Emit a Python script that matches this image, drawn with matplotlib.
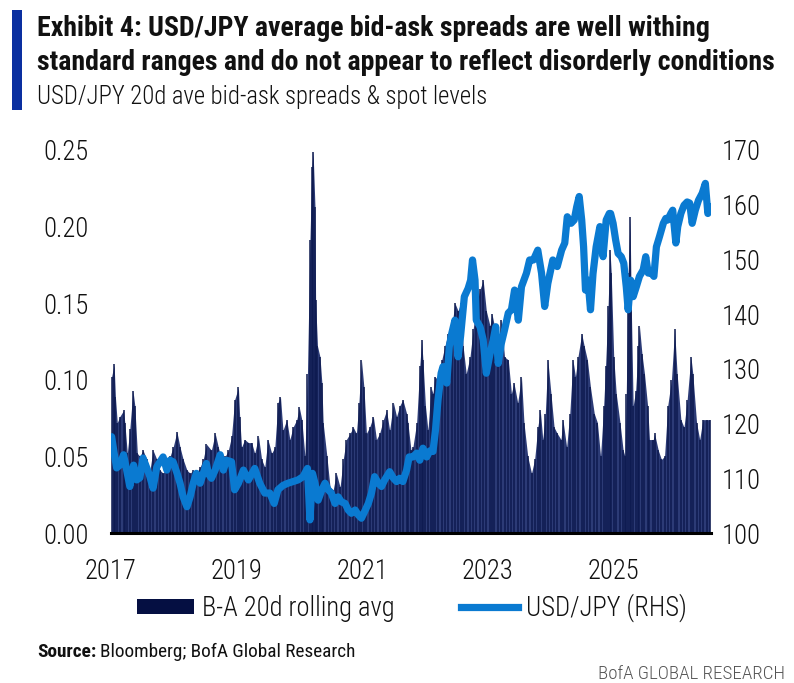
import numpy as np
import matplotlib
matplotlib.use("Agg")
import matplotlib.pyplot as plt
from matplotlib import font_manager as fm
from matplotlib.font_manager import FontProperties
from matplotlib.patches import Patch, Rectangle
from matplotlib.lines import Line2D

# ---------------- data ----------------
ba_dates = [2017.01, 2017.05, 2017.07, 2017.10, 2017.14, 2017.20, 2017.22, 2017.26, 2017.30, 2017.35,
            2017.38, 2017.42, 2017.46, 2017.51, 2017.57, 2017.62, 2017.67, 2017.73, 2017.78, 2017.83,
            2017.89, 2017.94, 2017.99, 2018.05, 2018.10, 2018.15, 2018.21, 2018.26, 2018.31, 2018.36,
            2018.42, 2018.47, 2018.52, 2018.60, 2018.66, 2018.71, 2018.76, 2018.82, 2018.87, 2018.92,
            2018.97, 2019.03, 2019.05, 2019.08, 2019.13, 2019.19, 2019.24, 2019.29, 2019.35, 2019.40,
            2019.45, 2019.50, 2019.56, 2019.61, 2019.66, 2019.70, 2019.74, 2019.80, 2019.85, 2019.90,
            2019.96, 2020.00, 2020.04, 2020.09, 2020.13, 2020.17, 2020.20, 2020.22, 2020.25, 2020.26,
            2020.29, 2020.33, 2020.36, 2020.38, 2020.44, 2020.49, 2020.54, 2020.59, 2020.65, 2020.70,
            2020.75, 2020.81, 2020.86, 2020.91, 2020.95, 2020.99, 2021.03, 2021.07, 2021.12, 2021.18,
            2021.23, 2021.28, 2021.34, 2021.39, 2021.44, 2021.50, 2021.55, 2021.60, 2021.65, 2021.71,
            2021.73, 2021.78, 2021.81, 2021.87, 2021.92, 2021.95, 2021.97, 2022.01, 2022.05, 2022.10,
            2022.13, 2022.16, 2022.21, 2022.27, 2022.32, 2022.37, 2022.43, 2022.48, 2022.53, 2022.57,
            2022.61, 2022.66, 2022.72, 2022.77, 2022.82, 2022.88, 2022.93, 2022.98, 2023.04, 2023.07,
            2023.11, 2023.17, 2023.22, 2023.27, 2023.33, 2023.38, 2023.42, 2023.48, 2023.54, 2023.58,
            2023.64, 2023.70, 2023.75, 2023.80, 2023.84, 2023.88, 2023.92, 2023.96, 2024.01, 2024.06,
            2024.11, 2024.17, 2024.20, 2024.26, 2024.31, 2024.36, 2024.40, 2024.44, 2024.50, 2024.54,
            2024.59, 2024.64, 2024.70, 2024.75, 2024.80, 2024.85, 2024.88, 2024.92, 2024.95, 2024.97,
            2025.01, 2025.05, 2025.11, 2025.16, 2025.19, 2025.21, 2025.24, 2025.27, 2025.29, 2025.32,
            2025.36, 2025.40, 2025.42, 2025.46, 2025.50, 2025.55, 2025.58, 2025.64, 2025.66, 2025.72,
            2025.77, 2025.82, 2025.87, 2025.93, 2025.98, 2026.02, 2026.08, 2026.13, 2026.18, 2026.24,
            2026.27, 2026.33, 2026.38, 2026.43, 2026.49, 2026.54]
ba_values = [0.102, 0.110, 0.089, 0.072, 0.076, 0.080, 0.072, 0.052, 0.068, 0.093,
             0.083, 0.052, 0.050, 0.054, 0.048, 0.041, 0.054, 0.048, 0.041, 0.039,
             0.043, 0.050, 0.056, 0.066, 0.056, 0.048, 0.041, 0.039, 0.041, 0.039,
             0.043, 0.048, 0.058, 0.054, 0.065, 0.056, 0.048, 0.050, 0.054, 0.063,
             0.087, 0.095, 0.076, 0.056, 0.061, 0.059, 0.059, 0.052, 0.063, 0.048,
             0.043, 0.061, 0.052, 0.056, 0.085, 0.089, 0.067, 0.074, 0.061, 0.069,
             0.074, 0.082, 0.074, 0.050, 0.104, 0.191, 0.239, 0.249, 0.213, 0.152,
             0.122, 0.115, 0.098, 0.072, 0.050, 0.030, 0.028, 0.039, 0.030, 0.048,
             0.061, 0.065, 0.069, 0.065, 0.085, 0.113, 0.095, 0.065, 0.069, 0.076,
             0.061, 0.065, 0.074, 0.080, 0.067, 0.085, 0.076, 0.083, 0.087, 0.078,
             0.072, 0.054, 0.056, 0.072, 0.109, 0.126, 0.113, 0.083, 0.067, 0.095,
             0.091, 0.102, 0.100, 0.113, 0.122, 0.130, 0.135, 0.150, 0.145, 0.150,
             0.122, 0.104, 0.115, 0.133, 0.148, 0.159, 0.165, 0.145, 0.135, 0.143,
             0.135, 0.122, 0.139, 0.115, 0.113, 0.091, 0.098, 0.085, 0.102, 0.072,
             0.050, 0.039, 0.048, 0.069, 0.080, 0.061, 0.078, 0.113, 0.091, 0.069,
             0.065, 0.061, 0.074, 0.056, 0.078, 0.113, 0.102, 0.115, 0.130, 0.122,
             0.113, 0.095, 0.078, 0.072, 0.050, 0.083, 0.109, 0.148, 0.185, 0.170,
             0.115, 0.091, 0.072, 0.054, 0.050, 0.091, 0.170, 0.206, 0.148, 0.083,
             0.093, 0.122, 0.135, 0.117, 0.104, 0.083, 0.061, 0.061, 0.065, 0.054,
             0.048, 0.050, 0.083, 0.100, 0.133, 0.104, 0.074, 0.069, 0.087, 0.115,
             0.104, 0.072, 0.061, 0.074, 0.074, 0.074]

fx_dates = [2017.01, 2017.05, 2017.09, 2017.14, 2017.20, 2017.25, 2017.30, 2017.36, 2017.41, 2017.46,
            2017.51, 2017.57, 2017.62, 2017.67, 2017.73, 2017.78, 2017.83, 2017.89, 2017.94, 2017.99,
            2018.05, 2018.10, 2018.15, 2018.21, 2018.26, 2018.31, 2018.36, 2018.42, 2018.47, 2018.52,
            2018.55, 2018.60, 2018.66, 2018.74, 2018.79, 2018.84, 2018.92, 2018.97, 2019.03, 2019.11,
            2019.19, 2019.29, 2019.37, 2019.45, 2019.53, 2019.60, 2019.66, 2019.74, 2019.82, 2019.90,
            2019.98, 2020.06, 2020.13, 2020.17, 2020.21, 2020.25, 2020.30, 2020.36, 2020.41, 2020.46,
            2020.51, 2020.57, 2020.62, 2020.67, 2020.73, 2020.78, 2020.83, 2020.89, 2020.94, 2020.99,
            2021.04, 2021.10, 2021.15, 2021.20, 2021.26, 2021.31, 2021.36, 2021.44, 2021.50, 2021.55,
            2021.60, 2021.65, 2021.71, 2021.75, 2021.81, 2021.87, 2021.92, 2021.97, 2022.03, 2022.08,
            2022.13, 2022.17, 2022.21, 2022.26, 2022.29, 2022.35, 2022.39, 2022.43, 2022.48, 2022.53,
            2022.57, 2022.63, 2022.69, 2022.73, 2022.76, 2022.80, 2022.82, 2022.88, 2022.93, 2022.98,
            2023.04, 2023.09, 2023.13, 2023.17, 2023.22, 2023.27, 2023.33, 2023.38, 2023.43, 2023.49,
            2023.54, 2023.62, 2023.67, 2023.73, 2023.80, 2023.86, 2023.91, 2023.96, 2024.04, 2024.11,
            2024.18, 2024.23, 2024.27, 2024.33, 2024.38, 2024.42, 2024.46, 2024.50, 2024.53, 2024.56,
            2024.60, 2024.64, 2024.68, 2024.73, 2024.79, 2024.84, 2024.89, 2024.94, 2024.96, 2025.00,
            2025.04, 2025.08, 2025.13, 2025.17, 2025.21, 2025.24, 2025.28, 2025.32, 2025.37, 2025.42,
            2025.48, 2025.52, 2025.56, 2025.61, 2025.65, 2025.69, 2025.74, 2025.80, 2025.84, 2025.87,
            2025.92, 2025.95, 2026.00, 2026.03, 2026.08, 2026.13, 2026.18, 2026.22, 2026.26, 2026.31,
            2026.36, 2026.42, 2026.47, 2026.51, 2026.55]
fx_values = [117.6, 114.6, 111.9, 112.4, 114.3, 111.5, 108.5, 112.4, 109.7, 110.1,
             113.7, 111.9, 110.3, 108.2, 112.1, 113.0, 113.9, 111.5, 113.3, 113.0,
             111.0, 109.1, 106.6, 104.8, 106.6, 109.1, 110.9, 109.1, 110.9, 112.7,
             110.9, 110.0, 111.5, 114.3, 111.5, 113.3, 113.0, 107.9, 109.1, 111.5,
             109.7, 111.8, 109.1, 107.3, 107.3, 105.4, 107.9, 108.7, 109.1, 109.4,
             109.7, 110.3, 111.8, 102.4, 110.9, 109.1, 106.0, 107.9, 109.1, 107.9,
             107.3, 105.4, 106.6, 105.7, 105.4, 104.2, 103.6, 104.2, 103.3, 102.7,
             103.9, 105.4, 107.3, 110.3, 109.1, 108.5, 109.7, 111.2, 110.0, 109.4,
             110.0, 109.4, 111.5, 113.9, 113.9, 114.6, 113.3, 115.5, 113.9, 115.0,
             114.9, 118.8, 124.3, 129.2, 130.4, 127.4, 134.1, 136.5, 138.9, 132.2,
             136.0, 143.2, 144.7, 146.2, 149.9, 146.2, 138.9, 137.7, 135.3, 129.2,
             132.8, 135.3, 137.7, 131.0, 134.7, 137.1, 140.2, 140.8, 144.4, 138.9,
             145.0, 147.5, 149.9, 149.9, 151.7, 147.5, 141.4, 145.6, 149.9, 148.7,
             151.7, 153.0, 157.8, 156.6, 157.2, 159.6, 161.5, 157.2, 152.3, 144.4,
             146.2, 140.8, 147.4, 152.3, 156.0, 150.5, 157.2, 158.4, 158.4, 156.6,
             153.6, 151.1, 150.5, 149.3, 145.0, 140.8, 146.2, 143.2, 145.0, 146.9,
             148.1, 150.5, 147.5, 147.5, 146.9, 152.3, 154.2, 156.6, 157.5, 157.2,
             158.4, 159.0, 153.0, 156.0, 158.4, 159.9, 160.5, 160.3, 156.6, 159.0,
             160.8, 162.1, 163.9, 158.4, 159.6]

left_ticks = [0.00, 0.05, 0.10, 0.15, 0.20, 0.25]
right_ticks = [100, 110, 120, 130, 140, 150, 160, 170]
year_ticks = [2017, 2019, 2021, 2023, 2025]

title_lines = ["Exhibit 4: USD/JPY average bid-ask spreads are well withing",
               "standard ranges and do not appear to reflect disorderly conditions"]
subtitle = "USD/JPY 20d ave bid-ask spreads & spot levels"
legend_labels = ["B-A 20d rolling avg", "USD/JPY (RHS)"]
source_bold = "Source:"
source_text = "Bloomberg; BofA Global Research"
brand = "BofA GLOBAL RESEARCH"

# ---------------- fonts: look for a condensed face ----------------
def _is_cond(f):
    st = f.stretch
    if isinstance(st, str):
        c = st in ("ultra-condensed", "extra-condensed", "condensed", "semi-condensed")
    else:
        c = st < 500
    return c or ("Condensed" in f.name) or ("Narrow" in f.name)

def _wt(f):
    w = f.weight
    if isinstance(w, str):
        return {"normal": 400, "regular": 400, "book": 400, "bold": 700, "light": 300,
                "medium": 500, "semibold": 600, "demibold": 600}.get(w, 400)
    return int(w)

cond = [f for f in fm.fontManager.ttflist if _is_cond(f) and f.style == "normal"]
pref = ["Roboto Condensed", "Noto Sans", "Open Sans", "Roboto", "Liberation Sans Narrow",
        "Lato", "DejaVu Sans"]
paths = {}
for fam in pref + sorted({f.name for f in cond}):
    fs = [f for f in cond if f.name == fam]
    if not fs:
        continue
    regs = sorted(fs, key=lambda f: abs(_wt(f) - 400))
    bolds = sorted(fs, key=lambda f: abs(_wt(f) - 700))
    lights = sorted(fs, key=lambda f: abs(_wt(f) - 300))
    if abs(_wt(regs[0]) - 400) <= 100 and abs(_wt(bolds[0]) - 700) <= 100:
        paths = {"regular": regs[0].fname, "bold": bolds[0].fname,
                 "light": lights[0].fname if abs(_wt(lights[0]) - 300) <= 50 else regs[0].fname}
        break

def fprop(kind="regular", size=12):
    if paths:
        return FontProperties(fname=paths[kind], size=size)
    wmap = {"regular": "normal", "bold": "bold", "light": "light"}
    return FontProperties(family=["Roboto", "DejaVu Sans"], weight=wmap[kind], size=size)

W, H = 794, 683
fig = plt.figure(figsize=(W / 100, H / 100), dpi=100)
fig.patch.set_facecolor("white")
renderer = fig.canvas.get_renderer()

def fx(px):
    return px / W

def fy(py):
    return 1 - py / H

def size_for(text, target_px, kind="regular"):
    t = fig.text(0, 0, text, fontproperties=fprop(kind, 20))
    w = t.get_window_extent(renderer).width
    t.remove()
    return 20 * target_px / w

BAR_FILL = "#2c3b76"
BAR_DARK = "#0d1a4f"
LINE_COL = "#0a7ad1"
TXT = "#111111"

ax = fig.add_axes([fx(111), fy(533), (711 - 111) / W, (533 - 150) / H])
ax2 = ax.twinx()

ax.fill_between(ba_dates, 0, ba_values, color=BAR_FILL, lw=0, zorder=1)
ax.vlines(ba_dates, 0, ba_values, color=BAR_DARK, lw=1.1, zorder=2)
ax2.plot(fx_dates, fx_values, color=LINE_COL, lw=5.2,
         solid_joinstyle="round", solid_capstyle="round", zorder=3)

ax.set_xlim(2017.0, 2026.56)
ax.set_ylim(0, 0.25)
ax2.set_ylim(100, 170)

for a in (ax, ax2):
    for s in a.spines.values():
        s.set_visible(False)
ax.spines["bottom"].set_visible(True)
ax.spines["bottom"].set_linewidth(2.2)
ax.spines["bottom"].set_color("black")
ax.spines["bottom"].set_zorder(5)

tick_size = size_for("2017", 52, "light")
tick_fp = fprop("light", tick_size)
ax.set_yticks(left_ticks)
ax.set_yticklabels([f"{v:.2f}" for v in left_ticks])
ax2.set_yticks(right_ticks)
ax2.set_yticklabels([str(v) for v in right_ticks])
ax.set_xticks(year_ticks)
ax.set_xticklabels([str(v) for v in year_ticks])
ax.tick_params(axis="y", length=0, pad=16, labelcolor=TXT)
ax2.tick_params(axis="y", length=0, pad=8, labelcolor=TXT)
ax.tick_params(axis="x", length=0, pad=18, labelcolor=TXT)
for lab in ax.get_yticklabels() + ax.get_xticklabels() + ax2.get_yticklabels():
    lab.set_fontproperties(tick_fp)

# ---------------- header ----------------
fig.patches.append(Rectangle((fx(12), fy(110)), 10 / W, 100 / H,
                             transform=fig.transFigure, color="#0a2fa0", lw=0))
tsize = size_for(title_lines[1], 738, "bold")
fig.text(fx(37), fy(29), title_lines[0], fontproperties=fprop("bold", tsize),
         color=TXT, va="center", ha="left")
fig.text(fx(37), fy(63), title_lines[1], fontproperties=fprop("bold", tsize),
         color=TXT, va="center", ha="left")
fig.text(fx(37), fy(97), subtitle,
         fontproperties=fprop("light", size_for(subtitle, 450, "light")),
         color=TXT, va="center", ha="left")

# ---------------- legend ----------------
lsize = size_for(legend_labels[0], 193, "light")
lpx = lsize * 100 / 72
handles = [Patch(facecolor="#050f42", edgecolor="none"),
           Line2D([0], [0], color=LINE_COL, lw=5.2)]
fig.legend(handles, legend_labels, loc="center", bbox_to_anchor=(fx(412), fy(608)),
           ncol=2, frameon=False, prop=fprop("light", lsize),
           handlelength=57 / lpx, handleheight=13 / lpx,
           handletextpad=8 / lpx, columnspacing=67 / lpx, labelcolor=TXT,
           borderpad=0, borderaxespad=0)

# ---------------- footer ----------------
ssize = size_for(source_bold + " " + source_text, 318)
src = fig.text(fx(37), fy(652), source_bold, fontproperties=fprop("bold", ssize),
               color=TXT, va="center", ha="left")
bb = src.get_window_extent(renderer)
fig.text((bb.x1 + 4) / W, fy(652), source_text, fontproperties=fprop("regular", ssize),
         color=TXT, va="center", ha="left")
fig.text(fx(785), fy(674), brand,
         fontproperties=fprop("light", size_for(brand, 187, "light")),
         color="#555555", va="center", ha="right")

fig.savefig("out.png", dpi=100)
